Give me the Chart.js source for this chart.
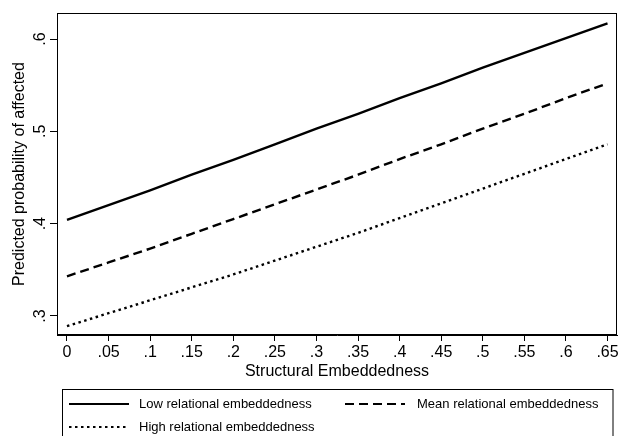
<!DOCTYPE html>
<html><head><meta charset="utf-8">
<script src="https://cdn.jsdelivr.net/npm/chart.js@4/dist/chart.umd.min.js"></script>
<style>html,body{margin:0;padding:0;background:#fff}canvas{display:block}</style>
</head><body>
<canvas id="c" width="621" height="436"></canvas>
<script>
// ---- data ----
const structuralEmbeddedness = [0, 0.05, 0.10, 0.15, 0.20, 0.25, 0.30, 0.35, 0.40, 0.45, 0.50, 0.55, 0.60, 0.65];
const lowRelational  = [0.404, 0.420, 0.436, 0.453, 0.469, 0.486, 0.503, 0.519, 0.536, 0.552, 0.569, 0.585, 0.601, 0.617];
const meanRelational = [0.343, 0.358, 0.373, 0.389, 0.405, 0.421, 0.437, 0.453, 0.470, 0.486, 0.503, 0.519, 0.536, 0.552];
const highRelational = [0.289, 0.303, 0.317, 0.331, 0.345, 0.360, 0.375, 0.390, 0.406, 0.422, 0.438, 0.454, 0.470, 0.486];
const xTickValues = [0, 0.05, 0.10, 0.15, 0.20, 0.25, 0.30, 0.35, 0.40, 0.45, 0.50, 0.55, 0.60, 0.65];
const yTickValues = [0.3, 0.4, 0.5, 0.6];
const seriesLabels = ['Low relational embeddedness', 'Mean relational embeddedness', 'High relational embeddedness'];
const xTitle = 'Structural Embeddedness';
const yTitle = 'Predicted probability of affected';

const FONT = "'Liberation Sans', Arial, Helvetica, sans-serif";
Chart.defaults.font.family = FONT;
Chart.defaults.color = '#000';

function fmt(v) {
  if (Math.abs(v) < 1e-9) return '0';
  return String(+v.toFixed(2)).replace(/^0/, '');
}
function pts(ys) { return structuralEmbeddedness.map((x, i) => ({ x: x, y: ys[i] })); }

const frame = {
  id: 'frame',
  afterDraw(chart) {
    const ctx = chart.ctx, a = chart.chartArea;
    ctx.save();
    ctx.strokeStyle = '#000';
    ctx.lineWidth = 1;
    ctx.strokeRect(Math.round(a.left) + 0.5, Math.round(a.top) + 0.5,
                   Math.round(a.right - a.left) - 1, Math.round(a.bottom - a.top) - 1);
    ctx.restore();
  }
};

const legendBox = {
  id: 'legendBox',
  afterDraw(chart) {
    const ctx = chart.ctx;
    const ds = chart.data.datasets;
    ctx.save();
    ctx.strokeStyle = '#000';
    ctx.lineWidth = 1;
    ctx.strokeRect(62.5, 389.5, 550.5, 80);
    const slots = [
      { x: 69, y: 404, tx: 139 },
      { x: 345, y: 404, tx: 417 },
      { x: 69, y: 427, tx: 139 }
    ];
    ds.forEach((d, i) => {
      const s = slots[i];
      ctx.beginPath();
      ctx.setLineDash(d.borderDash || []);
      ctx.lineWidth = 2;
      ctx.strokeStyle = d.borderColor;
      ctx.moveTo(s.x, s.y);
      ctx.lineTo(s.x + 60, s.y);
      ctx.stroke();
      ctx.setLineDash([]);
      ctx.fillStyle = '#000';
      ctx.font = '13px ' + FONT;
      ctx.textBaseline = 'middle';
      ctx.textAlign = 'left';
      ctx.fillText(d.label, s.tx, s.y);
    });
    ctx.restore();
  }
};

new Chart(document.getElementById('c'), {
  type: 'line',
  data: {
    datasets: [
      { label: seriesLabels[0], data: pts(lowRelational),  borderColor: '#000', borderWidth: 2.4, borderDash: [], pointRadius: 0, tension: 0, fill: false },
      { label: seriesLabels[1], data: pts(meanRelational), borderColor: '#000', borderWidth: 2.4, borderDash: [9, 5], pointRadius: 0, tension: 0, fill: false },
      { label: seriesLabels[2], data: pts(highRelational), borderColor: '#000', borderWidth: 2.4, borderDash: [2.5, 3.5], pointRadius: 0, tension: 0, fill: false }
    ]
  },
  options: {
    responsive: false,
    devicePixelRatio: 1,
    animation: false,
    layout: { padding: { top: 13, right: 4, left: 0, bottom: 0 } },
    plugins: { legend: { display: false }, tooltip: { enabled: false } },
    scales: {
      x: {
        type: 'linear',
        min: -0.012, max: 0.6614,
        afterBuildTicks: s => { s.ticks = xTickValues.map(v => ({ value: v })); },
        afterFit: s => { s.height = 101; },
        ticks: { callback: v => fmt(v), font: { size: 16 }, color: '#000', padding: 2, maxRotation: 0, minRotation: 0, autoSkip: false },
        grid: { display: true, drawOnChartArea: false, drawTicks: true, tickLength: 6, color: '#000', lineWidth: 1 },
        border: { display: true, color: '#000', width: 1 },
        title: { display: true, text: xTitle, font: { size: 16 }, color: '#000', padding: { top: 0, bottom: 55 } }
      },
      y: {
        type: 'linear',
        min: 0.2794, max: 0.6282,
        afterBuildTicks: s => { s.ticks = yTickValues.map(v => ({ value: v })); },
        afterFit: s => { s.width = 57; },
        ticks: { callback: v => fmt(v), font: { size: 16 }, color: '#000', padding: 3, minRotation: 90, maxRotation: 90, crossAlign: 'center', autoSkip: false },
        grid: { display: true, drawOnChartArea: false, drawTicks: true, tickLength: 7, color: '#000', lineWidth: 1 },
        border: { display: true, color: '#000', width: 1 },
        title: { display: true, text: yTitle, font: { size: 16 }, color: '#000', padding: { top: 10, bottom: 0 } }
      }
    }
  },
  plugins: [frame, legendBox]
});
</script>
</body></html>
